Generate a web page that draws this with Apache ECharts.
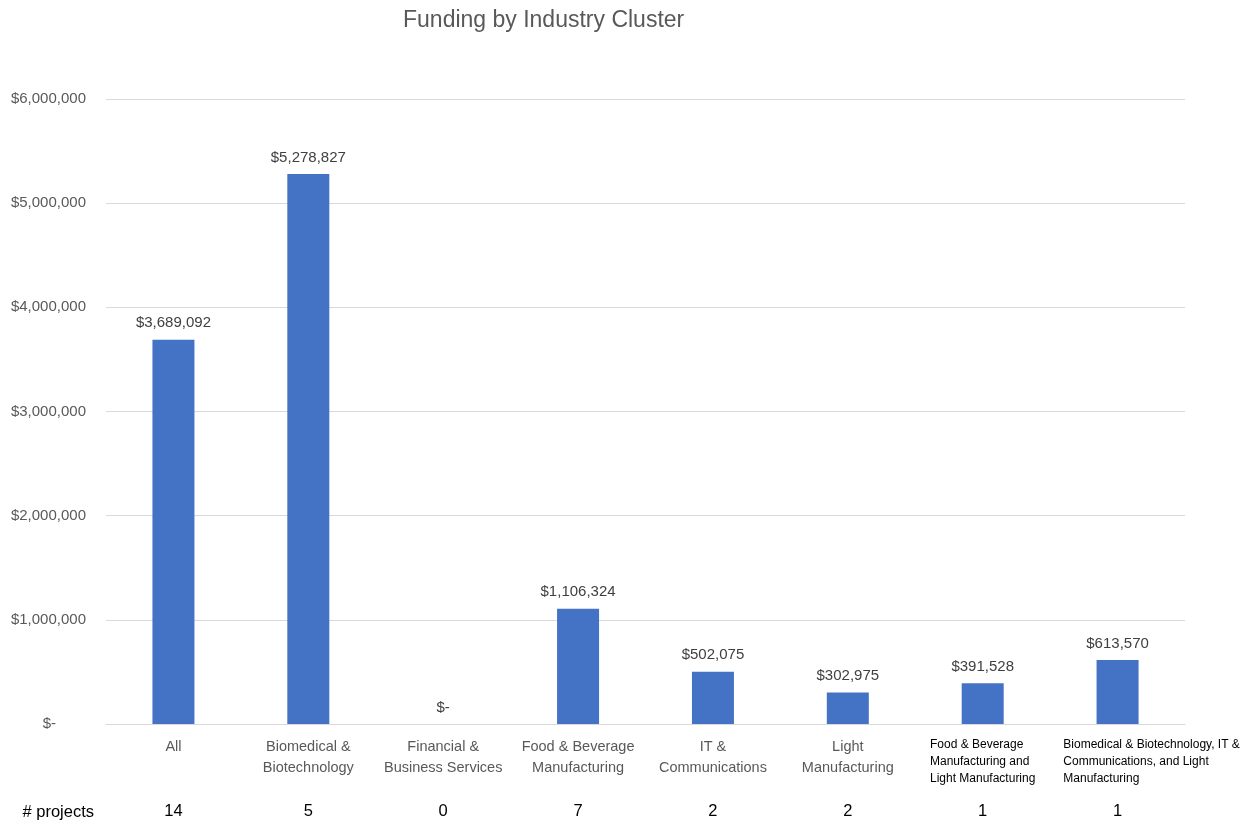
<!DOCTYPE html>
<html>
<head>
<meta charset="utf-8">
<script src="https://cdn.jsdelivr.net/npm/echarts@6/dist/echarts.min.js"></script>
<style>html,body{margin:0;padding:0;background:#fff;}#c{width:1259px;height:822px;}</style>
</head>
<body>
<div id="c"></div>
<script>
const categories = [
  "All",
  "Biomedical &\nBiotechnology",
  "Financial &\nBusiness Services",
  "Food & Beverage\nManufacturing",
  "IT &\nCommunications",
  "Light\nManufacturing",
  "Food & Beverage\nManufacturing and\nLight Manufacturing",
  "Biomedical & Biotechnology, IT &\nCommunications, and Light\nManufacturing"
];
const funding = [3689092, 5278827, 0, 1106324, 502075, 302975, 391528, 613570];
const projectCounts = ["14", "5", "0", "7", "2", "2", "1", "1"];
const yTicks = [0, 1000000, 2000000, 3000000, 4000000, 5000000, 6000000];

const FONT = '"Liberation Sans", Arial, sans-serif';
function money(v) {
  if (v === 0) return '$-';
  return '$' + v.toLocaleString('en-US');
}

const chart = echarts.init(document.getElementById('c'));
chart.setOption({
  animation: false,
  backgroundColor: '#ffffff',
  title: {
    text: 'Funding by Industry Cluster',
    left: 398, top: 4,
    textStyle: { fontFamily: FONT, fontSize: 23, fontWeight: 'normal', color: '#595959' }
  },
  grid: { left: 106, right: 74, top: 99, bottom: 98, containLabel: false },
  xAxis: [{
    type: 'category',
    data: categories,
    axisLine: { show: true, lineStyle: { color: '#d9d9d9' } },
    axisTick: { show: false },
    axisLabel: {
      interval: 0,
      margin: 12,
      color: '#595959',
      fontFamily: FONT,
      fontSize: 14.5,
      lineHeight: 21,
      formatter: function (value, idx) {
        if (idx >= 6) {
          const st = idx === 7 ? 's2' : 's';
          return value.split('\n').map(l => '{' + st + '|' + l + '}').join('\n');
        }
        return value;
      },
      rich: {
        s: { fontFamily: FONT, fontSize: 12, color: '#000000', align: 'left', lineHeight: 17 },
        s2: { fontFamily: FONT, fontSize: 12, color: '#000000', align: 'left', lineHeight: 17, padding: [0, 0, 0, 68] }
      }
    }
  }, {
    type: 'category',
    position: 'bottom',
    offset: 88,
    data: projectCounts,
    axisLine: { show: false },
    axisTick: { show: false },
    axisLabel: { interval: 0, margin: -9, color: '#000000', fontFamily: FONT, fontSize: 16.5 },
    name: '# projects',
    nameLocation: 'start',
    nameGap: 12,
    nameTextStyle: { color: '#000000', fontFamily: FONT, fontSize: 16.5, verticalAlign: 'middle' }
  }],
  yAxis: {
    type: 'value',
    min: 0, max: 6000000, interval: 1000000,
    axisLine: { show: false },
    axisTick: { show: false },
    splitLine: { lineStyle: { color: '#d9d9d9', width: 1 } },
    axisLabel: {
      margin: 20,
      color: '#595959',
      fontFamily: FONT,
      fontSize: 15,
      formatter: function (v) {
        if (v === 0) return '{z|$-}';
        return money(v);
      },
      rich: { z: { fontFamily: FONT, fontSize: 15, color: '#595959', padding: [0, 30, 0, 0] } }
    }
  },
  series: [{
    type: 'bar',
    data: funding,
    barWidth: 42,
    itemStyle: { color: '#4472C4' },
    label: {
      show: true,
      position: 'top',
      distance: 9,
      color: '#404040',
      fontFamily: FONT,
      fontSize: 15,
      formatter: function (p) { return money(p.value); }
    }
  }]
});
</script>
</body>
</html>
